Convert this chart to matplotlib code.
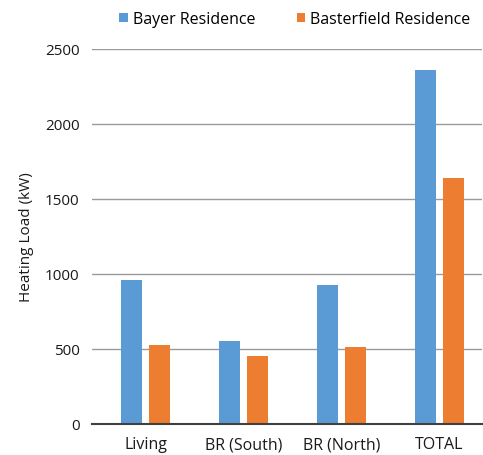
import matplotlib.pyplot as plt
import numpy as np

plt.rcParams['font.family'] = ['Open Sans', 'DejaVu Sans']

categories = ['Living', 'BR (South)', 'BR (North)', 'TOTAL']
bayer = [963, 551, 928, 2362]
basterfield = [527, 451, 515, 1640]
yticks = [0, 500, 1000, 1500, 2000, 2500]

fig = plt.figure(figsize=(4.83, 4.56), dpi=100)
ax = fig.add_axes([92 / 483, 31 / 456, 390 / 483, 375 / 456])

x = np.arange(len(categories))
w = 0.215
ax.bar(x - 0.14, bayer, w, color='#5B9BD5', label='Bayer Residence', zorder=3)
ax.bar(x + 0.14, basterfield, w, color='#ED7D31', label='Basterfield Residence', zorder=3)

ax.set_xlim(-0.546, 3.434)
ax.set_ylim(0, 2500)
ax.set_yticks(yticks)
ax.set_yticklabels([str(v) for v in yticks], fontsize=11, color='#1a1a1a')
ax.set_xticks(x)
ax.set_xticklabels(categories, fontsize=11.5, color='#1a1a1a')
ax.tick_params(axis='both', length=0)
ax.tick_params(axis='y', pad=9)
ax.tick_params(axis='x', pad=9)
ax.set_ylabel('Heating Load (kW)', fontsize=11, color='#1a1a1a', labelpad=8)

ax.yaxis.grid(True, color='#9A9A9A', linewidth=1, zorder=0)
for s in ['top', 'right', 'left']:
    ax.spines[s].set_visible(False)
ax.spines['bottom'].set_color('#404040')
ax.spines['bottom'].set_linewidth(1.5)
ax.spines['bottom'].set_zorder(4)

ax.legend(loc='lower center', bbox_to_anchor=(0.52, 1.02), ncol=2, frameon=False,
          fontsize=11.5, handlelength=0.55, handleheight=0.55, handletextpad=0.3,
          columnspacing=2.6)

fig.savefig('out.png', dpi=100)
